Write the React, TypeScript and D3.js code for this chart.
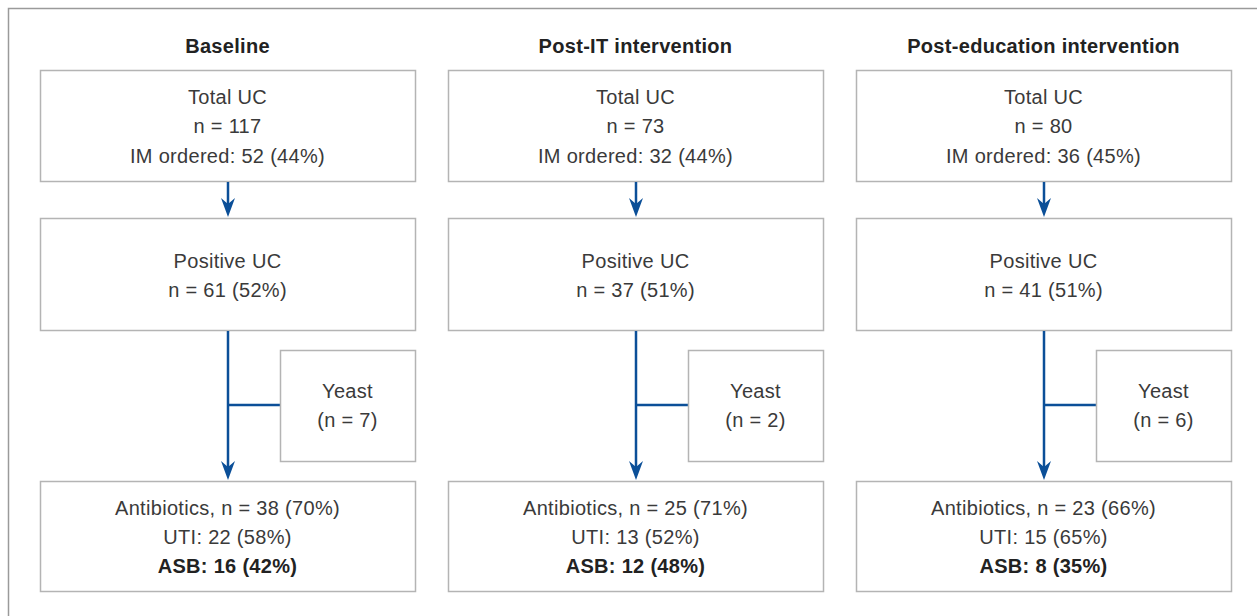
import * as d3 from 'd3';

const titles = ['Baseline', 'Post-IT intervention', 'Post-education intervention'];
const totalUC = [117, 73, 80];
const imOrdered = [52, 32, 36];
const imPct = [44, 44, 45];
const positiveUC = [61, 37, 41];
const positivePct = [52, 51, 51];
const yeast = [7, 2, 6];
const antibiotics = [38, 25, 23];
const antibioticsPct = [70, 71, 66];
const uti = [22, 13, 15];
const utiPct = [58, 52, 65];
const asb = [16, 12, 8];
const asbPct = [42, 48, 35];

const W = 1257;
const H = 616;
const FONT = '"Liberation Sans", Arial, Helvetica, sans-serif';
const TEXT = '#3a3a3a';
const BOX = '#b4b4b4';
const BLUE = '#0b4f98';
const FS = 20;
const LS = 0.3;

// column bands
const x = d3.scaleBand<string>().domain(titles).range([40, 1231]).paddingInner(33 / 408).paddingOuter(0);

// row extents (top, bottom)
const rows = {
  total: [70, 181],
  positive: [218, 330],
  yeast: [350, 461],
  ab: [481, 591],
};

function arrowHead(cx: number, tip: number) {
  const p = d3.path();
  p.moveTo(cx, tip);
  p.lineTo(cx - 7, tip - 19);
  p.lineTo(cx, tip - 13);
  p.lineTo(cx + 7, tip - 19);
  p.closePath();
  return p.toString();
}

function Box({ x0, w, y0, y1 }: { x0: number; w: number; y0: number; y1: number }) {
  return <rect x={x0 + 0.5} y={y0 + 0.5} width={w} height={y1 - y0} fill="#fff" stroke={BOX} strokeWidth={1.5} />;
}

export default function App() {
  const bw = x.bandwidth();
  return (
    <svg width={W} height={H} style={{ position: 'absolute', left: 0, top: 0, background: '#fff' }} fontFamily={FONT}>
      <rect x={8.5} y={8.5} width={W + 10} height={H + 10} fill="none" stroke="#9a9a9a" strokeWidth={1.5} />
      {titles.map((t, i) => {
        const x0 = x(t)!;
        const cx = x0 + bw / 2;
        const ax = x0 + 188;
        const yx = x0 + 240;
        return (
          <g key={t}>
            <text x={cx} y={53} textAnchor="middle" fontWeight="bold" fontSize={FS} letterSpacing={LS} fill="#222">{t}</text>

            <Box x0={x0} w={bw} y0={rows.total[0]} y1={rows.total[1]} />
            <text textAnchor="middle" fontSize={FS} letterSpacing={LS} fill={TEXT}>
              <tspan x={cx} y={104}>Total UC</tspan>
              <tspan x={cx} y={133}>n = {totalUC[i]}</tspan>
              <tspan x={cx} y={163}>IM ordered: {imOrdered[i]} ({imPct[i]}%)</tspan>
            </text>

            <line x1={ax} x2={ax} y1={rows.total[1] + 1} y2={rows.positive[0] - 12} stroke={BLUE} strokeWidth={2.5} />
            <path d={arrowHead(ax, rows.positive[0] - 1)} fill={BLUE} />

            <Box x0={x0} w={bw} y0={rows.positive[0]} y1={rows.positive[1]} />
            <text textAnchor="middle" fontSize={FS} letterSpacing={LS} fill={TEXT}>
              <tspan x={cx} y={268}>Positive UC</tspan>
              <tspan x={cx} y={297}>n = {positiveUC[i]} ({positivePct[i]}%)</tspan>
            </text>

            <line x1={ax} x2={ax} y1={rows.positive[1] + 1} y2={rows.ab[0] - 14} stroke={BLUE} strokeWidth={2.5} />
            <line x1={ax} x2={yx} y1={405} y2={405} stroke={BLUE} strokeWidth={2.5} />
            <path d={arrowHead(ax, rows.ab[0] - 1)} fill={BLUE} />

            <Box x0={yx} w={x0 + bw - yx} y0={rows.yeast[0]} y1={rows.yeast[1]} />
            <text textAnchor="middle" fontSize={FS} letterSpacing={LS} fill={TEXT}>
              <tspan x={(yx + x0 + bw) / 2} y={398}>Yeast</tspan>
              <tspan x={(yx + x0 + bw) / 2} y={427}>(n = {yeast[i]})</tspan>
            </text>

            <Box x0={x0} w={bw} y0={rows.ab[0]} y1={rows.ab[1]} />
            <text textAnchor="middle" fontSize={FS} letterSpacing={LS} fill={TEXT}>
              <tspan x={cx} y={515}>Antibiotics, n = {antibiotics[i]} ({antibioticsPct[i]}%)</tspan>
              <tspan x={cx} y={544}>UTI: {uti[i]} ({utiPct[i]}%)</tspan>
              <tspan x={cx} y={573} fontWeight="bold" fill="#222">ASB: {asb[i]} ({asbPct[i]}%)</tspan>
            </text>
          </g>
        );
      })}
    </svg>
  );
}
